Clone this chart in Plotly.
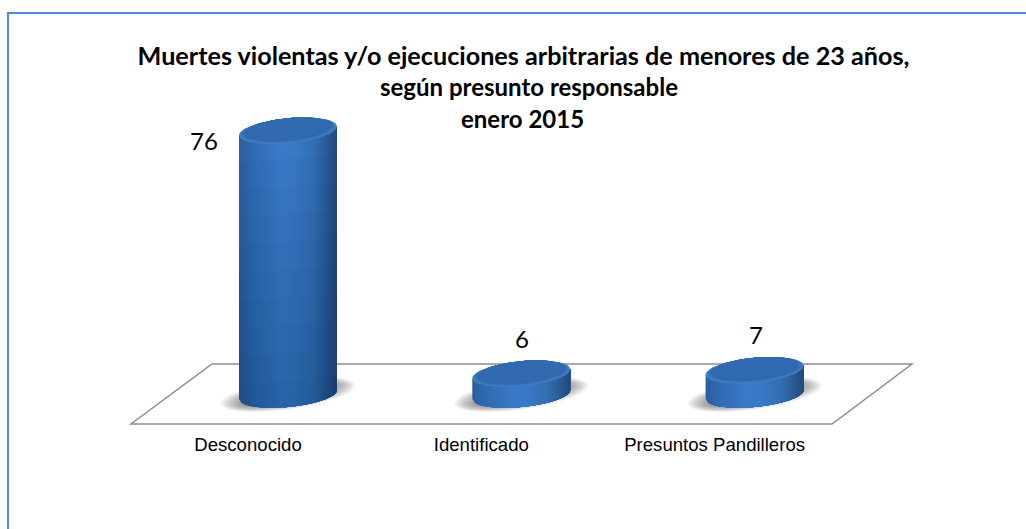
import math
import plotly.graph_objects as go

# --- data ---
categories = ["Desconocido", "Identificado", "Presuntos Pandilleros"]
values = [76, 6, 7]
title_lines = [
    "Muertes violentas y/o ejecuciones arbitrarias de menores de 23 años,",
    "según presunto responsable",
    "enero 2015",
]

# --- layout geometry (figure pixels) ---
W, H = 1026, 529
PLOT_L, PLOT_R, PLOT_T, PLOT_B = 131, 912, 100, 424
X0_PX, DX_PX = 248.0, 233.3      # tick positions
Y0_PX, DY_PX = 394.5, 3.47       # value 0 and pixels per unit
SHIFT = 40.0 / DX_PX             # cylinders sit right of their tick (perspective)
A = 49.0 / DX_PX                 # ellipse half width
B = 12.5 / DY_PX                 # ellipse half height
TILT = 4.5 / DY_PX

x_range = [(PLOT_L - X0_PX) / DX_PX, (PLOT_R - X0_PX) / DX_PX]
y_range = [(Y0_PX - PLOT_B) / DY_PX, (Y0_PX - PLOT_T) / DY_PX]


def px(x):
    return (x - PLOT_L) / (PLOT_R - PLOT_L)


def py(y):
    return (PLOT_B - y) / (PLOT_B - PLOT_T)


def lerp_hex(stops, f):
    for (f0, c0), (f1, c1) in zip(stops, stops[1:]):
        if f <= f1:
            t = (f - f0) / (f1 - f0)
            rgb = [int(c0[i:i + 2], 16) + t * (int(c1[i:i + 2], 16) - int(c0[i:i + 2], 16)) for i in (0, 2, 4)]
            return "rgb(%d,%d,%d)" % tuple(round(v) for v in rgb)
    return "#" + stops[-1][1]


SIDE = [(0.0, "2b5f9f"), (0.12, "3069b0"), (0.42, "3b7ac8"), (0.55, "3a79c6"),
        (0.75, "3570b6"), (0.9, "2b5b96"), (1.0, "234a7c")]
CAP = [(0.0, "4181c8"), (0.2, "3b78be"), (0.55, "3369ad"), (1.0, "316aae")]


def ellipse(cx, cy, a, b, tilt, n=60):
    xs, ys = [], []
    for i in range(n + 1):
        t = 2 * math.pi * i / n
        xs.append(cx + a * math.cos(t))
        ys.append(cy + b * math.sin(t) + tilt * math.cos(t))
    return xs, ys


def poly(xs, ys, color):
    return go.Scatter(x=xs, y=ys, mode="lines", fill="toself", fillcolor=color,
                      line=dict(width=0), hoverinfo="skip", showlegend=False)


def body(cx, top, u0, color, n=30):
    """Cylinder outline from u0 to the right edge; bottom follows the base ellipse."""
    us = [u0 + (1 - u0) * i / n for i in range(n + 1)]
    xs = [cx + A * u for u in us]
    low = [TILT * u - B * math.sqrt(max(0, 1 - u * u)) for u in us]
    up = [top + TILT * u for u in us]
    return poly(xs + xs[::-1], low + up[::-1], color)


fig = go.Figure()

# the data mark itself
fig.add_trace(go.Bar(x=list(range(len(values))), y=values, width=0.36,
                     offset=SHIFT - 0.18, marker=dict(color="#3370b8", line=dict(width=0)),
                     showlegend=False, hoverinfo="skip"))

for i, v in enumerate(values):
    cx = i + SHIFT
    # soft floor shadow
    for k in range(14):
        f = 1 - k / 14
        xs, ys = ellipse(cx, 0, (34 + 33 * f) / DX_PX, (4 + 11 * f) / DY_PX, 9 / DY_PX)
        fig.add_trace(poly(xs, ys, "rgba(70,70,70,0.07)"))
    # side wall, painted left to right in thin slices
    steps = 48
    for s in range(steps):
        fig.add_trace(body(cx, v, -1 + 2 * s / steps, lerp_hex(SIDE, s / (steps - 1))))
    # the wall darkens towards the floor
    level = v - 8
    while level > 0:
        us = [-1 + 2 * j / 40 for j in range(41)]
        xs = [cx + A * u for u in us]
        low = [TILT * u - B * math.sqrt(max(0, 1 - u * u)) for u in us]
        up = [level + TILT * u for u in us]
        fig.add_trace(poly(xs + xs[::-1], low + up[::-1], "rgba(10,30,70,0.028)"))
        level -= 8
    # top cap: the rim highlight is thickest on the near (lower) edge
    for k in range(12):
        f = k / 11
        s = 1 - 0.2 * f
        xs, ys = ellipse(cx, v + 0.75 * f, A * s, B * s, TILT * s)
        fig.add_trace(poly(xs, ys, lerp_hex(CAP, f)))

shapes = [
    # floor
    dict(type="path", xref="paper", yref="paper", layer="below",
         path="M %f %f L %f %f L %f %f L %f %f Z" % (px(131), py(424), px(832), py(424),
                                                     px(912), py(364), px(212), py(364)),
         line=dict(color="#8e8e8e", width=1.5), fillcolor="rgba(255,255,255,0)"),
    # outer frame
    dict(type="path", xref="paper", yref="paper", layer="below",
         path="M %f %f L %f %f L %f %f" % (px(8), py(529), px(8), py(13), px(1026), py(13)),
         line=dict(color="#4f8ad8", width=2)),
]

label_offsets = [(-84, -10), (1, 35), (1, 36)]
annotations = [
    dict(x=i + SHIFT, y=v, xref="x", yref="y", text=str(v), showarrow=False,
         xshift=label_offsets[i][0], yshift=label_offsets[i][1],
         font=dict(family="Lato, Carlito, sans-serif", size=24, color="#000000"))
    for i, v in enumerate(values)
]
for line, x_px, y_px in zip(title_lines[1:], [529, 522], [86, 118]):
    annotations.append(dict(x=px(x_px), y=py(y_px), xref="paper", yref="paper", text=line,
                            showarrow=False, xanchor="center", yanchor="middle",
                            font=dict(family="Lato, sans-serif", size=24, color="#000000", weight="bold")))

fig.update_layout(
    width=W, height=H,
    margin=dict(l=PLOT_L, r=W - PLOT_R, t=PLOT_T, b=H - PLOT_B, pad=0),
    paper_bgcolor="white", plot_bgcolor="rgba(0,0,0,0)",
    showlegend=False, barmode="overlay",
    title=dict(text=title_lines[0], x=523.5 / W, xanchor="center", xref="container",
               y=1 - 56 / H, yanchor="middle", yref="container",
               font=dict(family="Lato, sans-serif", size=25.2, color="#000000", weight="bold")),
    xaxis=dict(range=x_range, tickmode="array", tickvals=list(range(len(categories))),
               ticktext=categories, showgrid=False, zeroline=False, showline=False,
               ticks="outside", ticklen=4, tickcolor="rgba(0,0,0,0)",
               tickfont=dict(family="Liberation Sans, Arial, sans-serif", size=18.6, color="#000000"),
               fixedrange=True),
    yaxis=dict(range=y_range, visible=False, fixedrange=True),
    shapes=shapes, annotations=annotations,
)

fig.write_html("out.html", config=dict(displayModeBar=False),
               post_script="document.body.style.margin='0';document.body.style.overflow='hidden';")
